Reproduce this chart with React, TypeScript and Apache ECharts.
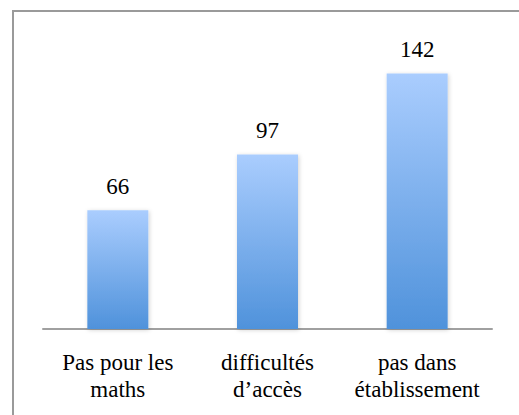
import React, { useEffect, useRef } from "react";
import * as echarts from "echarts";

const categories = ["Pas pour les\nmaths", "difficultés\nd’accès", "pas dans\nétablissement"];
const values = [66, 97, 142];

const FONT = "Liberation Serif";

export default function App() {
  const ref = useRef<HTMLDivElement>(null);
  useEffect(() => {
    if (!ref.current) return;
    const chart = echarts.init(ref.current, undefined, { renderer: "svg" });
    const txt = { fontFamily: FONT, fontSize: 23, lineHeight: 27, color: "#000000", fontWeight: "normal" };
    chart.setOption({
      animation: false,
      backgroundColor: "#ffffff",
      textStyle: { fontFamily: FONT },
      graphic: [
        {
          type: "rect",
          shape: { x: 13, y: 11, width: 530, height: 430 },
          style: { fill: "none", stroke: "#9a9a9a", lineWidth: 2 },
          z: 100,
        },
      ],
      grid: { left: 43, right: 27, top: 41, bottom: 86 },
      xAxis: {
        type: "category",
        data: categories,
        axisLine: { lineStyle: { color: "#a0a0a0", width: 2 } },
        axisTick: { show: false },
        axisLabel: {
          ...txt,
          margin: 20,
          interval: 0,
          formatter: (v: string) =>
            v
              .split("\n")
              .map((s) => "{t|" + s + "}")
              .join("\n"),
          rich: { t: { ...txt } },
        },
      },
      yAxis: {
        type: "value",
        min: 0,
        max: 160,
        show: false,
        splitLine: { show: false },
      },
      series: [
        {
          type: "bar",
          data: values,
          barWidth: 61,
          itemStyle: {
            color: new echarts.graphic.LinearGradient(0, 0, 0, 1, [
              { offset: 0, color: "#aacdfe" },
              { offset: 1, color: "#4f92db" },
            ]),
            shadowBlur: 4,
            shadowColor: "rgba(0,0,0,0.18)",
            shadowOffsetX: 1,
            shadowOffsetY: 1,
          },
          label: {
            show: true,
            position: "top",
            distance: 12,
            ...txt,
            lineHeight: 23,
            formatter: "{t|{c}}",
            rich: { t: { ...txt, lineHeight: 23 } },
          },
        },
      ],
    });
    return () => chart.dispose();
  }, []);
  return (
    <div
      ref={ref}
      style={{ position: "fixed", left: 0, top: 0, width: 519, height: 415, background: "#fff" }}
    />
  );
}
